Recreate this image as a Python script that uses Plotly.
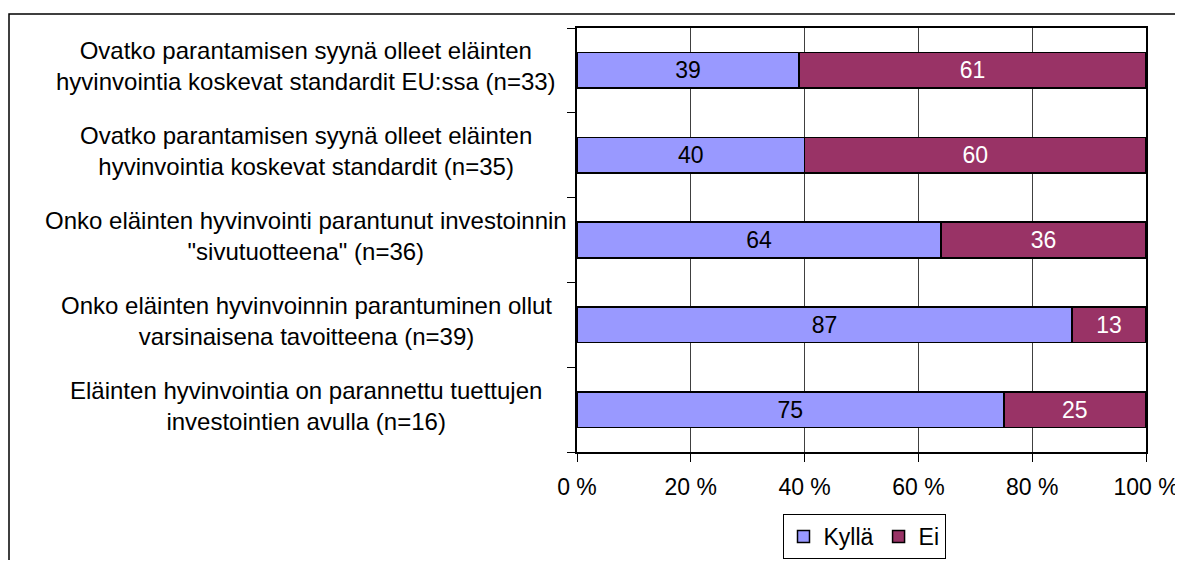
import plotly.graph_objects as go

categories = [
    "Ovatko parantamisen syynä olleet eläinten<br>hyvinvointia koskevat standardit EU:ssa (n=33)",
    "Ovatko parantamisen syynä olleet eläinten<br>hyvinvointia koskevat standardit (n=35)",
    "Onko eläinten hyvinvointi parantunut investoinnin<br>\"sivutuotteena\" (n=36)",
    "Onko eläinten hyvinvoinnin parantuminen ollut<br>varsinaisena tavoitteena (n=39)",
    "Eläinten hyvinvointia on parannettu tuettujen<br>investointien avulla (n=16)",
]
kylla = [39, 40, 64, 87, 75]
ei = [61, 60, 36, 13, 25]
x_ticks = [0, 20, 40, 60, 80, 100]
x_ticktext = ["0 %", "20 %", "40 %", "60 %", "80 %", "100 %"]

# page body has an 8px margin; the figure is sized so the page does not overflow
OFF = 8
WIN_W, WIN_H = 1183, 568
W, H = WIN_W - OFF, WIN_H - 2 * OFF
L, R, T, B = 577, 1146, 28, 452  # plot area in window pixels
FONT = "Liberation Sans, Arial, sans-serif"


def px_x(p):
    return (p - L) / (R - L)


def px_y(p):
    return (B - p) / (B - T)


ypos = list(range(len(categories)))

fig = go.Figure()
fig.add_trace(go.Bar(
    y=ypos, x=kylla, orientation="h", name="Kyllä",
    marker=dict(color="#9999FF", line=dict(color="black", width=1.5)),
    text=kylla, textposition="inside", insidetextanchor="middle",
    textfont=dict(color="black", size=23, family=FONT),
    width=0.42,
))
fig.add_trace(go.Bar(
    y=ypos, x=ei, orientation="h", name="Ei",
    marker=dict(color="#993366", line=dict(color="black", width=1.5)),
    text=ei, textposition="inside", insidetextanchor="middle",
    textfont=dict(color="white", size=23, family=FONT),
    width=0.42,
))

for i, c in enumerate(categories):
    fig.add_annotation(
        x=px_x(306), xref="paper", y=i, yref="y", text=c, showarrow=False,
        xanchor="center", align="center", yshift=4,
        font=dict(size=24, color="black", family=FONT),
    )

n = len(categories)
fig.update_layout(
    barmode="stack",
    width=W, height=H,
    margin=dict(l=L - OFF, r=OFF + W - R, t=T - OFF, b=OFF + H - B, autoexpand=False),
    plot_bgcolor="white", paper_bgcolor="white",
    font=dict(family=FONT, size=23, color="black"),
    uniformtext=dict(minsize=23, mode="show"),
    xaxis=dict(
        range=[0, 100], tickvals=x_ticks, ticktext=x_ticktext,
        showgrid=True, gridcolor="#404040", gridwidth=1,
        showline=True, linecolor="black", linewidth=2, mirror=True,
        ticks="outside", ticklen=8, tickcolor="black", tickwidth=1,
        ticklabelstandoff=5,
        zeroline=False, tickfont=dict(size=23),
    ),
    yaxis=dict(
        range=[n - 0.5, -0.5], tickvals=ypos, ticktext=[""] * n,
        showgrid=False, zeroline=False,
        showline=True, linecolor="black", linewidth=2, mirror=True,
        ticks="",
        minor=dict(ticks="outside", ticklen=8, tickcolor="black", tickwidth=1,
                   tickmode="array", tickvals=[i - 0.5 for i in range(n + 1)],
                   showgrid=False),
    ),
    showlegend=True,
    legend=dict(
        orientation="h", x=px_x(864), xanchor="center", y=px_y(514), yanchor="top",
        bordercolor="black", borderwidth=1, font=dict(size=23),
        itemwidth=30, traceorder="normal",
    ),
    shapes=[dict(
        type="rect", xref="paper", yref="paper",
        x0=px_x(9), x1=px_x(1200), y0=px_y(600), y1=px_y(14),
        line=dict(color="black", width=1.5), fillcolor="rgba(0,0,0,0)", layer="below",
    )],
)

fig.write_html("out.html")
